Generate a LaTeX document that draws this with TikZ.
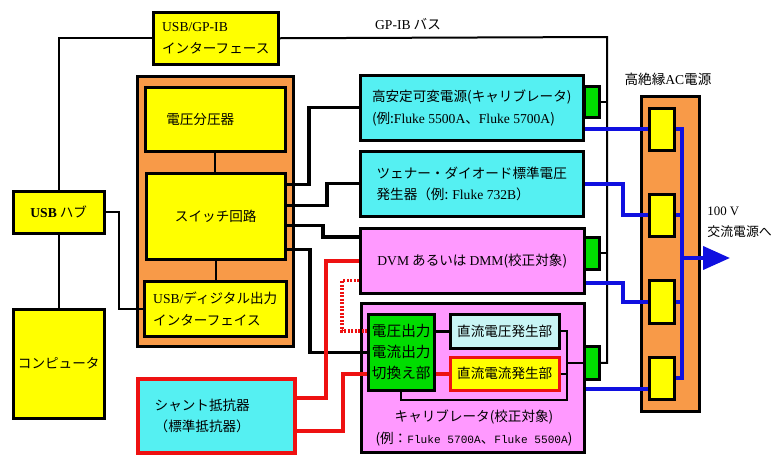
\documentclass[tikz,border=0pt]{standalone}
\usepackage{fontspec}
\setmainfont{Noto Sans CJK JP}
\newfontfamily\latn{Liberation Serif}
\newfontfamily\monof{Liberation Mono}
\usetikzlibrary{calc,arrows.meta}
\newcommand{\pxu}{0.3mm}
\newcommand{\flk}[1]{{\monof\fontsize{9.5}{18.5}\selectfont #1}}
\definecolor{boxyellow}{HTML}{FFFF00}
\definecolor{unitorange}{HTML}{F89A48}
\definecolor{boxcyan}{HTML}{55F0F2}
\definecolor{boxpink}{HTML}{FF99FF}
\definecolor{boxgreen}{HTML}{00DD00}
\definecolor{dcvcyan}{HTML}{C8F5F5}
\definecolor{pwblue}{HTML}{1010E0}
\definecolor{sigred}{HTML}{EE1111}
\begin{document}
\begin{tikzpicture}[x=\pxu,y=-\pxu,line join=miter,
  font=\fontsize{11.6}{18.5}\selectfont,
  box/.style={draw,line width=0.75mm,anchor=north west,align=left},
  wh/.style 2 args={minimum width=#1*\pxu,minimum height=#2*\pxu},
  ybox/.style={box,fill=boxyellow},
  cbox/.style={box,fill=boxcyan},
  pbox/.style={box,fill=boxpink},
  gbox/.style={box,fill=boxgreen},
  wire/.style={line width=0.6mm},
  bus/.style={line width=1mm},
  pw/.style={draw=pwblue,line width=1.2mm},
  rw/.style={draw=sigred,line width=1.1mm}]
\useasboundingbox (0,0) rectangle (773,454);
% pc side
\node[ybox,wh={125}{52}] (ifbox) at (152,11) {{\latn USB/GP-IB}\\インターフェース};
\node[ybox,wh={91}{42},align=center] (hub) at (12,190) {{\latn\bfseries USB} ハブ};
\node[ybox,wh={91}{109}] (pc) at (12,308) {コンピュータ};
% switching unit
\node[box,fill=unitorange,wh={156}{270}] (unit) at (136,75) {};
\node[ybox,wh={140}{64},text width=29.4mm] (divider) at (144,86) {電圧分圧器};
\node[ybox,wh={139}{86},align=center] (switch) at (145,172) {スイッチ回路};
\node[ybox,wh={142}{55}] (usbdio) at (143,280) {{\latn USB/}ディジタル出力\\インターフェイス};
% instruments
\node[cbox,wh={223}{65}] (hsv) at (359,74) {高安定可変電源(キャリブレータ)\\(例:{\latn Fluke 5500A}、{\latn Fluke 5700A})};
\node[cbox,wh={223}{65}] (zener) at (359,150) {ツェナー・ダイオード標準電圧\\発生器（例: {\latn Fluke 732B}）};
\node[pbox,wh={224}{65}] (dvm) at (359,227) {{\latn DVM} あるいは {\latn DMM}(校正対象)};
\node[pbox,wh={223}{149}] (calib) at (360,302) {};
\node[align=center] (calibtxt) at (474,428) {キャリブレータ(校正対象)\\(例：\flk{Fluke 5700A}、\flk{Fluke 5500A})};
\node[gbox,wh={66}{76},align=center,inner sep=1pt,font=\fontsize{12.5}{18}\selectfont] (sw) at (367,313) {電圧出力\\電流出力\\切換え部};
\node[box,fill=dcvcyan,wh={109}{34}] (dcv) at (449,313) {直流電圧発生部};
\node[box,draw=sigred,fill=boxyellow,wh={109}{33}] (dci) at (449,356) {直流電流発生部};
% gp-ib terminals
\node[gbox,wh={15}{31},inner sep=0pt] (t1) at (583,85) {};
\node[gbox,wh={15}{32},inner sep=0pt] (t2) at (583,236) {};
\node[gbox,wh={15}{33},inner sep=0pt] (t3) at (583,345) {};
% ac supply
\node[box,fill=unitorange,wh={58}{315}] (acsrc) at (640,95) {};
\node (aclabel) at (668,79) {高絶縁{\latn AC}電源};
\node[ybox,wh={25}{42},inner sep=0pt] (u1) at (648,107) {};
\node[ybox,wh={25}{42},inner sep=0pt] (u2) at (648,193) {};
\node[ybox,wh={25}{43},inner sep=0pt] (u3) at (648,279) {};
\node[ybox,wh={25}{42},inner sep=0pt] (u4) at (648,356) {};
\node[anchor=west,align=left,inner sep=1pt,font=\fontsize{11}{18}\selectfont] (acnote) at (706,222) {{\latn 100 V}\\交流電源へ};
% shunt
\node[box,draw=sigred,line width=1.1mm,fill=boxcyan,wh={157}{74},text width=37mm] (shunt) at (136,377) {シャント抵抗器\\（標準抵抗器）};
\node (gpib) at (408,24) {{\latn GP-IB} バス};
% usb and gp-ib wiring
\coordinate (gpbus) at (607,37);
\draw[wire] (ifbox.west) -| (hub.north);
\draw[wire] (hub.south) -- (pc.north);
\draw[wire] (hub.east) -| (119,260) |- (usbdio.west);
\draw[wire] (divider.south) -- (divider.south |- switch.north);
\draw[wire] (switch.south) -- (switch.south |- usbdio.north);
\draw[wire] (ifbox.east) -- (gpbus) |- (t3.east);
\draw[wire] (t1.east) -- (gpbus |- t1.east);
\draw[wire] (t2.east) -- (gpbus |- t2.east);
% switch outputs
\draw[bus] ($(switch.east)+(0,-32)$) -| (309,130) |- (hsv.west);
\draw[bus] ($(switch.east)+(0,-11)$) -| (327,195) |- (zener.west);
\draw[bus] ($(switch.east)+(0,9)$) -| (323,230) |- ($(dvm.north west)+(0,10)$);
\draw[bus] ($(switch.east)+(0,33)$) -| (310,300) |- (sw.west);
% inside calibrator
\coordinate (loop) at (567,400);
\draw[bus] (sw.east |- dcv.west) -- (dcv.west);
\draw[rw] (sw.east |- dci.west) -- (dci.west);
\draw[wire] (dcv.east) -| (loop) -| (sw.south);
\draw[wire] (dci.east) -- (loop |- dci.east);
\draw[wire] (loop |- t3.west) -- (t3.west);
% shunt and dvm
\draw[rw] ($(shunt.north east)+(0,21)$) -| (326,300) |- (dvm.west);
\draw[rw] ($(shunt.north east)+(0,54)$) -| (343,400) |- (sw.west |- dci.west);
\draw[rw,dash pattern=on 0.6mm off 0.45mm] ($(dvm.south west)+(0,-14)$) -| (342,300) |- (sw.west |- dcv.west);
% power lines
\coordinate (acbus) at (682,128);
\coordinate (u4in) at ($(u4.west)+(0,11)$);
\coordinate (acout) at (730,258);
\draw[pw] (hsv.east |- u1.west) -- (u1.west);
\draw[pw] (zener.east) -| (623,200) |- (u2.west);
\draw[pw] ($(dvm.south east)+(0,-12)$) -| (623,290) |- (u3.west);
\draw[pw] (calib.east |- u4in) -- (u4in);
\draw[pw] (u1.east) -| (acbus |- u4.east) -- (u4.east);
\draw[pw] (u2.east) -- (acbus |- u2.east);
\draw[pw] (u3.east) -- (acbus |- u3.east);
\draw[pw,-{Triangle[length=8.1mm,width=6.9mm]}] (acbus |- acout) -- (acout);
\end{tikzpicture}
\end{document}
